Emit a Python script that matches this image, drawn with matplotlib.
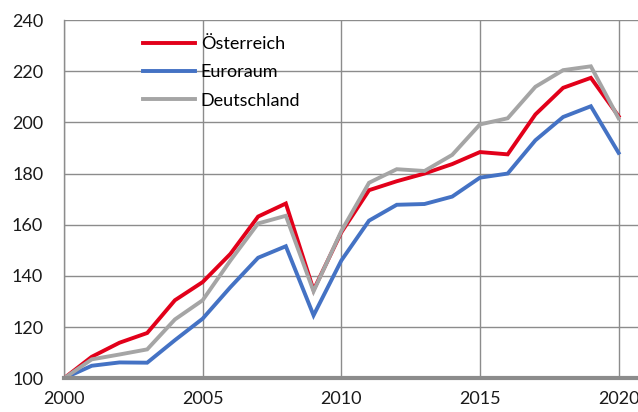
import matplotlib
matplotlib.use("Agg")
import matplotlib.pyplot as plt

years = list(range(2000, 2021))
oesterreich = [100, 108.4, 113.9, 117.7, 130.5, 137.6, 148.6, 163.2, 168.3, 134.5, 157.0,
               173.5, 177.0, 180.0, 183.7, 188.4, 187.5, 203.1, 213.5, 217.4, 202.4]
euroraum = [100, 104.9, 106.2, 106.1, 114.9, 123.3, 135.6, 147.1, 151.6, 124.6, 146.0,
            161.6, 167.8, 168.1, 171.0, 178.4, 180.0, 193.0, 202.1, 206.3, 188.1]
deutschland = [100, 107.4, 109.3, 111.3, 123.0, 130.5, 146.0, 160.5, 163.5, 134.0, 157.5,
               176.4, 181.7, 181.0, 187.3, 199.2, 201.6, 213.9, 220.4, 221.9, 201.6]
labels = ["Österreich", "Euroraum", "Deutschland"]
colors = ["#E2001A", "#4472C4", "#A5A5A5"]

plt.rcParams['font.family'] = ['Lato', 'DejaVu Sans']

fig = plt.figure(figsize=(6.38, 4.12), dpi=100)
ax = fig.add_axes([64/638, (412-378.3)/412, 1-64/638, (378.3-20)/412])

for series, lab, col in zip([oesterreich, euroraum, deutschland], labels, colors):
    ax.plot(years, series, color=col, lw=2.8, label=lab, solid_joinstyle='miter', zorder=3)

ax.set_xlim(2000, 2020.7)
ax.set_ylim(100, 240)
ax.set_xticks([2000, 2005, 2010, 2015, 2020])
ax.set_yticks(range(100, 241, 20))
ax.grid(True, color="#8C8C8C", lw=1.0)
ax.set_axisbelow(True)
for s in ["top", "right"]:
    ax.spines[s].set_visible(False)
ax.spines["left"].set_color("#8C8C8C")
ax.spines["left"].set_linewidth(1.0)
ax.spines["bottom"].set_color("#8C8C8C")
ax.spines["bottom"].set_linewidth(3.0)
ax.spines["bottom"].set_zorder(4)
ax.tick_params(axis="both", length=0, labelsize=13, colors="#1a1a1a")
ax.tick_params(axis="y", pad=15)
ax.tick_params(axis="x", pad=9)

leg = ax.legend(loc="upper left", bbox_to_anchor=(79/574, 1.0 - 16/358), frameon=False,
                fontsize=13, handlelength=2.9, handletextpad=0.3, labelspacing=0.68,
                borderaxespad=0, borderpad=0)

fig.savefig("out.png", dpi=100)
